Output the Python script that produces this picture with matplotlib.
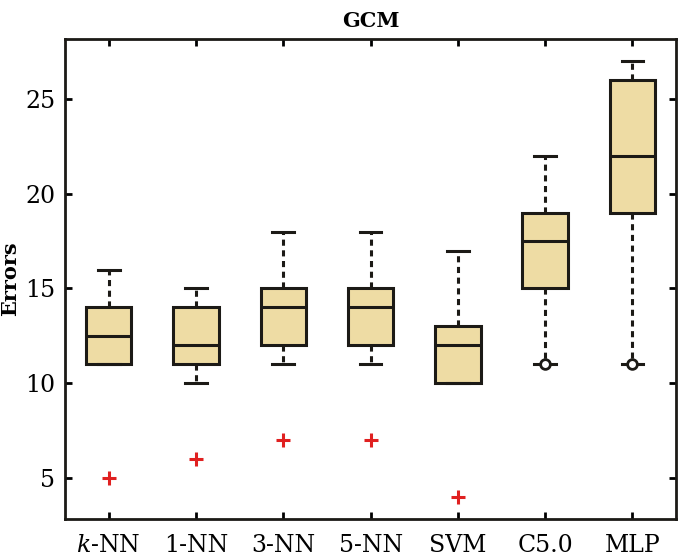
import numpy as np
import matplotlib
matplotlib.use("Agg")
import matplotlib.pyplot as plt

# data
methods = ["$k$-NN", "1-NN", "3-NN", "5-NN", "SVM", "C5.0", "MLP"]
q1 = [11, 11, 12, 12, 10, 15, 19]
med = [12.5, 12, 14, 14, 12, 17.5, 22]
q3 = [14, 14, 15, 15, 13, 19, 26]
whislo = [11, 10, 11, 11, 10, 11, 11]
whishi = [16, 15, 18, 18, 17, 22, 27]
outliers = [[5], [6], [7], [7], [4], [], []]
circle_marks = [[], [], [], [], [], [11], [11]]

plt.rcParams['font.family'] = ['DejaVu Serif']
plt.rcParams['mathtext.fontset'] = 'dejavuserif'

fig = plt.figure(figsize=(6.85, 5.59), dpi=100)
ax = fig.add_axes([0.095, 0.0716, 0.892, 0.8586])

stats = []
for i in range(len(methods)):
    stats.append(dict(med=med[i], q1=q1[i], q3=q3[i],
                      whislo=whislo[i], whishi=whishi[i], fliers=outliers[i]))

pos = np.arange(1, len(methods) + 1)
ax.bxp(stats, positions=pos, widths=0.52, patch_artist=True,
       boxprops=dict(facecolor='#eedca4', edgecolor='#1c1a16', linewidth=2.2),
       medianprops=dict(color='#1c1a16', linewidth=2.2),
       whiskerprops=dict(color='#1c1a16', linewidth=2.2, linestyle=(0, (2, 1.5))),
       capprops=dict(color='#1c1a16', linewidth=2.2),
       capwidths=0.25,
       flierprops=dict(marker='+', markeredgecolor='#e02020', markersize=10,
                       markeredgewidth=2.2, linestyle='none'))

for p, marks in zip(pos, circle_marks):
    if marks:
        ax.plot([p] * len(marks), marks, marker='o', linestyle='none',
                markerfacecolor='white', markeredgecolor='#1c1a16',
                markersize=7, markeredgewidth=2, zorder=5)

ax.set_xlim(0.5, 7.5)
ax.set_ylim(2.85, 28.15)
ax.set_yticks([5, 10, 15, 20, 25])
ax.set_xticks(pos)
ax.set_xticklabels(methods)
ax.tick_params(direction='in', length=5, width=2, labelsize=17,
               top=True, right=True)
ax.tick_params(axis='x', pad=11)
ax.tick_params(axis='y', pad=7)
for s in ax.spines.values():
    s.set_linewidth(2)
    s.set_color('#1c1a16')

ax.set_ylabel('Errors', fontsize=15, fontweight='bold', labelpad=4)
ax.set_title('GCM', fontsize=15, fontweight='bold', pad=9)

fig.savefig('out.png', dpi=100, facecolor='white')
